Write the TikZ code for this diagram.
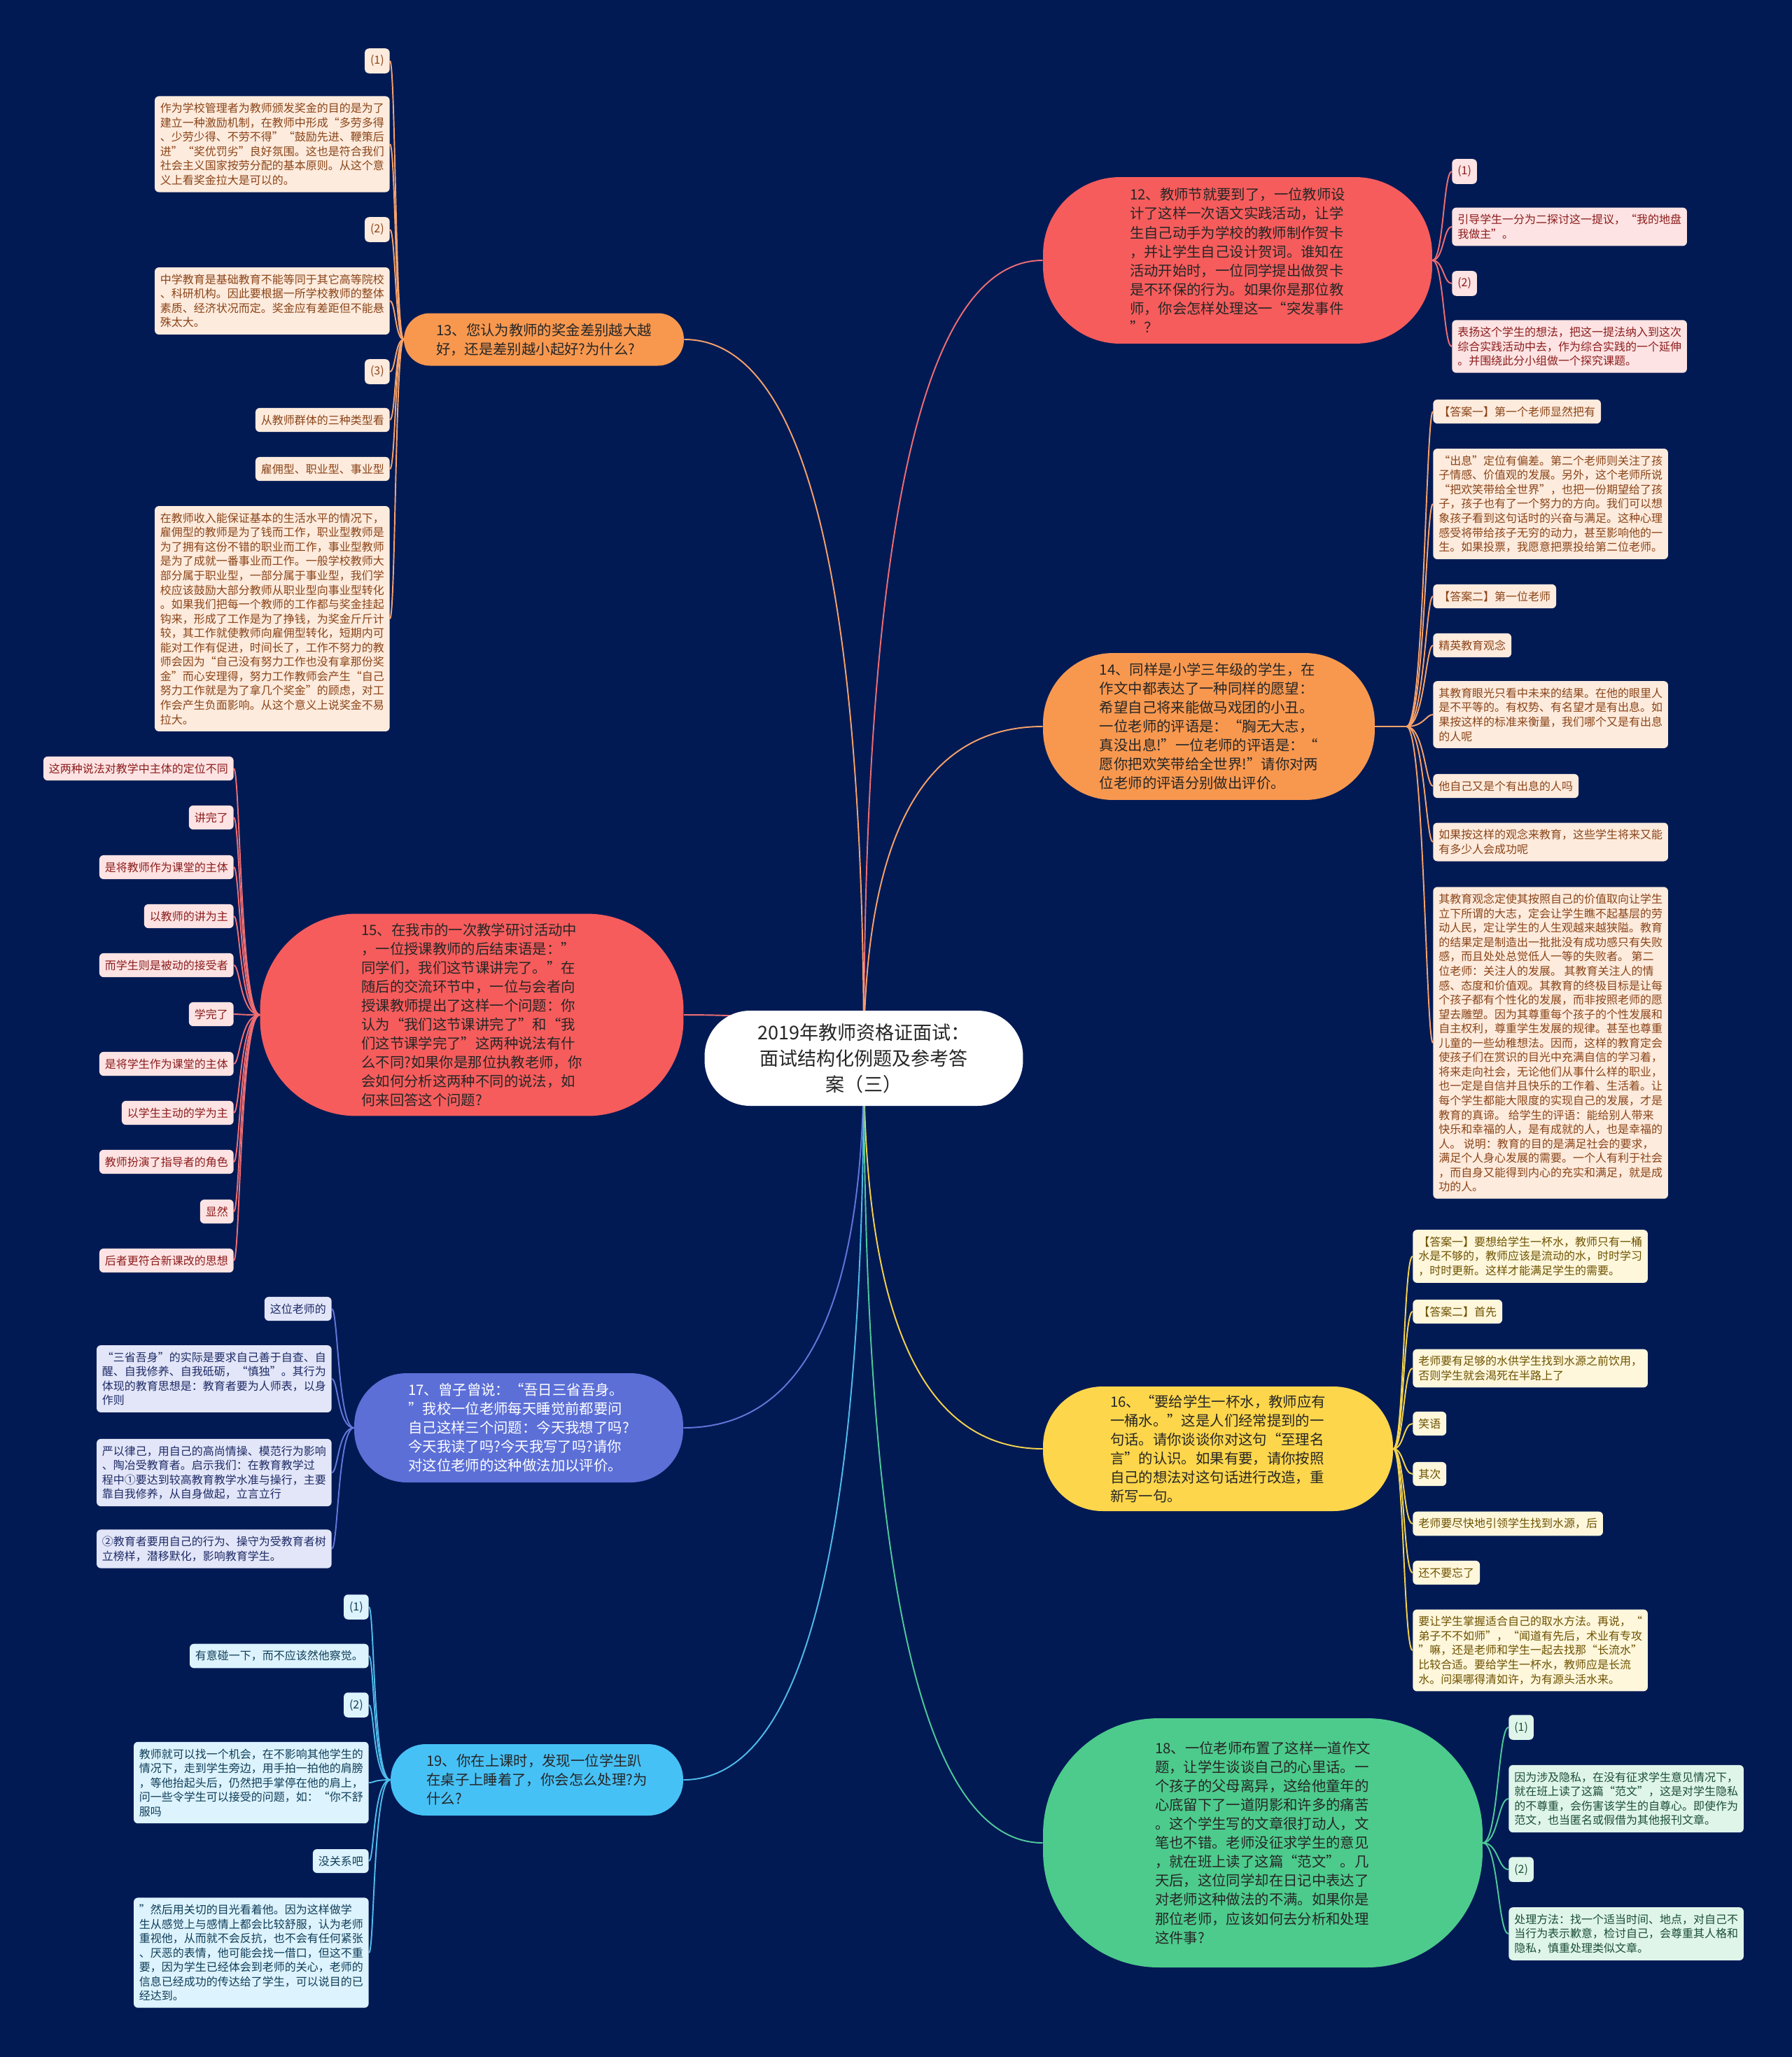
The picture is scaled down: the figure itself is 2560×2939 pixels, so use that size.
\documentclass[tikz,border=0pt]{standalone}
\usepackage{fontspec}
\setmainfont{Noto Sans CJK SC}
\usepackage{xcolor}
\pgfdeclarelayer{background}
\pgfsetlayers{background,main}

\definecolor{navy}{HTML}{021A54}
\definecolor{org}{HTML}{F8984F}
\definecolor{orgline}{HTML}{F6A26B}
\definecolor{orgleaf}{HTML}{FDEBDD}
\definecolor{orgtext}{HTML}{8A4418}
\definecolor{red}{HTML}{F65C5C}
\definecolor{redline}{HTML}{EE6E73}
\definecolor{redleaf}{HTML}{FDE3E3}
\definecolor{redtext}{HTML}{8C1C1C}
\definecolor{yel}{HTML}{FDD64B}
\definecolor{yelline}{HTML}{F4D34D}
\definecolor{yelleaf}{HTML}{FEF7DC}
\definecolor{yeltext}{HTML}{6E5200}
\definecolor{pur}{HTML}{5C6FD7}
\definecolor{purline}{HTML}{6575DA}
\definecolor{purleaf}{HTML}{E2E6F8}
\definecolor{purtext}{HTML}{1E2A66}
\definecolor{sky}{HTML}{46C1F6}
\definecolor{skyline}{HTML}{4FBCEB}
\definecolor{skyleaf}{HTML}{DDF3FD}
\definecolor{skytext}{HTML}{0E3D58}
\definecolor{grn}{HTML}{4DCB8C}
\definecolor{grnline}{HTML}{4FC99A}
\definecolor{grnleaf}{HTML}{DFF5EA}
\definecolor{grntext}{HTML}{1B4E36}

\begin{document}
\begin{tikzpicture}[x=0.02cm, y=-0.02cm,
    root/.style={fill=white, rounded corners=1.3cm, minimum width=9.1cm, minimum height=2.72cm,
      align=center, text=black!85, font=\fontsize{15.4}{21}\selectfont},
    branch/.style={inner sep=0pt, align=left, text=black!85, font=\fontsize{11.6}{15.4}\selectfont},
    leaf/.style={rounded corners=0.12cm, align=left, inner xsep=4.5pt, inner ysep=5.5pt,
      font=\fontsize{9.1}{11.7}\selectfont},
    l12/.style={leaf, fill=redleaf, text=redtext, anchor=west},
    l13/.style={leaf, fill=orgleaf, text=orgtext, anchor=east},
    l14/.style={leaf, fill=orgleaf, text=orgtext, anchor=west},
    l15/.style={leaf, fill=redleaf, text=redtext, anchor=east},
    l16/.style={leaf, fill=yelleaf, text=yeltext, anchor=west},
    l17/.style={leaf, fill=purleaf, text=purtext, anchor=east},
    l18/.style={leaf, fill=grnleaf, text=grntext, anchor=west},
    l19/.style={leaf, fill=skyleaf, text=skytext, anchor=east},
    e12/.style={draw=redline, line width=1.1pt},
    e13/.style={draw=orgline, line width=1.1pt},
    e14/.style={draw=orgline, line width=1.1pt},
    e15/.style={draw=redline, line width=1.1pt},
    e16/.style={draw=yelline, line width=1.1pt},
    e17/.style={draw=purline, line width=1.1pt},
    e18/.style={draw=grnline, line width=1.1pt},
    e19/.style={draw=skyline, line width=1.1pt}]
\useasboundingbox (0,0) rectangle (2560,2939);
\begin{pgfonlayer}{background}
  \fill[navy] (0,0) rectangle (2560,2939);
\end{pgfonlayer}

% Root
\node[root] (root) at (1234,1512) {2019年教师资格证面试：\\面试结构化例题及参考答\\案（三）};

% 12
\node[branch, fill=red, minimum width=11.12cm, minimum height=4.76cm, rounded corners=2.2cm] (b12) at (1768,372)
  {12、教师节就要到了，一位教师设\\计了这样一次语文实践活动，让学\\生自己动手为学校的教师制作贺卡\\，并让学生自己设计贺词。谁知在\\活动开始时，一位同学提出做贺卡\\是不环保的行为。如果你是那位教\\师，你会怎样处理这一“突发事件\\”？};
\node[l12] (c12a) at (2074,245) {(1)};
\node[l12] (c12b) at (2074,324) {引导学生一分为二探讨这一提议，“我的地盘\\我做主”。};
\node[l12] (c12c) at (2074,405) {(2)};
\node[l12] (c12d) at (2074,495) {表扬这个学生的想法，把这一提法纳入到这次\\综合实践活动中去，作为综合实践的一个延伸\\。并围绕此分小组做一个探究课题。};

% 13
\node[branch, fill=org, minimum width=8cm, minimum height=1.5cm, rounded corners=0.74cm] (b13) at (777,485)
  {13、您认为教师的奖金差别越大越\\好，还是差别越小起好?为什么?};
\node[l13] (c13a) at (557,87) {(1)};
\node[l13] (c13b) at (557,206) {作为学校管理者为教师颁发奖金的目的是为了\\建立一种激励机制，在教师中形成“多劳多得\\、少劳少得、不劳不得”“鼓励先进、鞭策后\\进”“奖优罚劣”良好氛围。这也是符合我们\\社会主义国家按劳分配的基本原则。从这个意\\义上看奖金拉大是可以的。};
\node[l13] (c13c) at (557,328) {(2)};
\node[l13] (c13d) at (557,430) {中学教育是基础教育不能等同于其它高等院校\\、科研机构。因此要根据一所学校教师的整体\\素质、经济状况而定。奖金应有差距但不能悬\\殊太大。};
\node[l13] (c13e) at (557,531) {(3)};
\node[l13] (c13f) at (557,600) {从教师群体的三种类型看};
\node[l13] (c13g) at (557,670) {雇佣型、职业型、事业型};
\node[l13] (c13h) at (557,884) {在教师收入能保证基本的生活水平的情况下，\\雇佣型的教师是为了钱而工作，职业型教师是\\为了拥有这份不错的职业而工作，事业型教师\\是为了成就一番事业而工作。一般学校教师大\\部分属于职业型，一部分属于事业型，我们学\\校应该鼓励大部分教师从职业型向事业型转化\\。如果我们把每一个教师的工作都与奖金挂起\\钩来，形成了工作是为了挣钱，为奖金斤斤计\\较，其工作就使教师向雇佣型转化，短期内可\\能对工作有促进，时间长了，工作不努力的教\\师会因为“自己没有努力工作也没有拿那份奖\\金”而心安理得，努力工作教师会产生“自己\\努力工作就是为了拿几个奖金”的顾虑，对工\\作会产生负面影响。从这个意义上说奖金不易\\拉大。};

% 14
\node[branch, fill=org, minimum width=9.48cm, minimum height=4.2cm, rounded corners=2cm] (b14) at (1727,1038)
  {14、同样是小学三年级的学生，在\\作文中都表达了一种同样的愿望：\\希望自己将来能做马戏团的小丑。\\一位老师的评语是：“胸无大志，\\真没出息!”一位老师的评语是：“\\愿你把欢笑带给全世界!”请你对两\\位老师的评语分别做出评价。};
\node[l14] (c14a) at (2047,588) {【答案一】第一个老师显然把有};
\node[l14] (c14b) at (2047,720) {“出息”定位有偏差。第二个老师则关注了孩\\子情感、价值观的发展。另外，这个老师所说\\“把欢笑带给全世界”，也把一份期望给了孩\\子，孩子也有了一个努力的方向。我们可以想\\象孩子看到这句话时的兴奋与满足。这种心理\\感受将带给孩子无穷的动力，甚至影响他的一\\生。如果投票，我愿意把票投给第二位老师。};
\node[l14] (c14c) at (2047,852) {【答案二】第一位老师};
\node[l14] (c14d) at (2047,922) {精英教育观念};
\node[l14] (c14e) at (2047,1021) {其教育眼光只看中未来的结果。在他的眼里人\\是不平等的。有权势、有名望才是有出息。如\\果按这样的标准来衡量，我们哪个又是有出息\\的人呢};
\node[l14] (c14f) at (2047,1123) {他自己又是个有出息的人吗};
\node[l14] (c14g) at (2047,1203) {如果按这样的观念来教育，这些学生将来又能\\有多少人会成功呢};
\node[l14] (c14h) at (2047,1490) {其教育观念定使其按照自己的价值取向让学生\\立下所谓的大志，定会让学生瞧不起基层的劳\\动人民，定让学生的人生观越来越狭隘。教育\\的结果定是制造出一批批没有成功感只有失败\\感，而且处处总觉低人一等的失败者。 第二\\位老师：关注人的发展。 其教育关注人的情\\感、态度和价值观。其教育的终极目标是让每\\个孩子都有个性化的发展，而非按照老师的愿\\望去雕塑。因为其尊重每个孩子的个性发展和\\自主权利，尊重学生发展的规律。甚至也尊重\\儿童的一些幼稚想法。因而，这样的教育定会\\使孩子们在赏识的目光中充满自信的学习着，\\将来走向社会，无论他们从事什么样的职业，\\也一定是自信并且快乐的工作着、生活着。让\\每个学生都能大限度的实现自己的发展，才是\\教育的真谛。 给学生的评语：能给别人带来\\快乐和幸福的人，是有成就的人，也是幸福的\\人。 说明：教育的目的是满足社会的要求，\\满足个人身心发展的需要。一个人有利于社会\\，而自身又能得到内心的充实和满足，就是成\\功的人。};

% 15
\node[branch, fill=red, minimum width=12.1cm, minimum height=5.78cm, rounded corners=2.75cm] (b15) at (674,1450)
  {15、在我市的一次教学研讨活动中\\，一位授课教师的后结束语是：”\\同学们，我们这节课讲完了。”在\\随后的交流环节中，一位与会者向\\授课教师提出了这样一个问题：你\\认为“我们这节课讲完了”和“我\\们这节课学完了”这两种说法有什\\么不同?如果你是那位执教老师，你\\会如何分析这两种不同的说法，如\\何来回答这个问题?};
\node[l15] (c15a) at (334,1098) {这两种说法对教学中主体的定位不同};
\node[l15] (c15b) at (334,1168) {讲完了};
\node[l15] (c15c) at (334,1239) {是将教师作为课堂的主体};
\node[l15] (c15d) at (334,1309) {以教师的讲为主};
\node[l15] (c15e) at (334,1379) {而学生则是被动的接受者};
\node[l15] (c15f) at (334,1449) {学完了};
\node[l15] (c15g) at (334,1520) {是将学生作为课堂的主体};
\node[l15] (c15h) at (334,1590) {以学生主动的学为主};
\node[l15] (c15i) at (334,1660) {教师扮演了指导者的角色};
\node[l15] (c15j) at (334,1731) {显然};
\node[l15] (c15k) at (334,1801) {后者更符合新课改的思想};

% 16
\node[branch, fill=yel, minimum width=10cm, minimum height=3.56cm, rounded corners=1.7cm] (b16) at (1740,2070)
  {16、“要给学生一杯水，教师应有\\一桶水。”这是人们经常提到的一\\句话。请你谈谈你对这句“至理名\\言”的认识。如果有要，请你按照\\自己的想法对这句话进行改造，重\\新写一句。};
\node[l16] (c16a) at (2018,1795) {【答案一】要想给学生一杯水，教师只有一桶\\水是不够的，教师应该是流动的水，时时学习\\，时时更新。这样才能满足学生的需要。};
\node[l16] (c16b) at (2018,1874) {【答案二】首先};
\node[l16] (c16c) at (2018,1955) {老师要有足够的水供学生找到水源之前饮用，\\否则学生就会渴死在半路上了};
\node[l16] (c16d) at (2018,2034) {笑语};
\node[l16] (c16e) at (2018,2106) {其次};
\node[l16] (c16f) at (2018,2177) {老师要尽快地引领学生找到水源，后};
\node[l16] (c16g) at (2018,2247) {还不要忘了};
\node[l16] (c16h) at (2018,2358) {要让学生掌握适合自己的取水方法。再说，“\\弟子不不如师”，“闻道有先后，术业有专攻\\”嘛，还是老师和学生一起去找那“长流水”\\比较合适。要给学生一杯水，教师应是长流\\水。问渠哪得清如许，为有源头活水来。};

% 17
\node[branch, fill=pur, text=white, minimum width=9.4cm, minimum height=3.12cm, rounded corners=1.5cm] (b17) at (741,2040)
  {17、曾子曾说：“吾日三省吾身。\\”我校一位老师每天睡觉前都要问\\自己这样三个问题：今天我想了吗?\\今天我读了吗?今天我写了吗?请你\\对这位老师的这种做法加以评价。};
\node[l17] (c17a) at (474,1870) {这位老师的};
\node[l17] (c17b) at (474,1970) {“三省吾身”的实际是要求自己善于自查、自\\醒、自我修养、自我砥砺，“慎独”。其行为\\体现的教育思想是：教育者要为人师表，以身\\作则};
\node[l17] (c17c) at (474,2104) {严以律己，用自己的高尚情操、模范行为影响\\、陶冶受教育者。启示我们：在教育教学过\\程中①要达到较高教育教学水准与操行，主要\\靠自我修养，从自身做起，立言立行};
\node[l17] (c17d) at (474,2213) {②教育者要用自己的行为、操守为受教育者树\\立榜样，潜移默化，影响教育学生。};

% 18
\node[branch, fill=grn, minimum width=12.56cm, minimum height=7.12cm, rounded corners=3.3cm] (b18) at (1804,2633)
  {18、一位老师布置了这样一道作文\\题，让学生谈谈自己的心里话。一\\个孩子的父母离异，这给他童年的\\心底留下了一道阴影和许多的痛苦\\。这个学生写的文章很打动人，文\\笔也不错。老师没征求学生的意见\\，就在班上读了这篇“范文”。几\\天后，这位同学却在日记中表达了\\对老师这种做法的不满。如果你是\\那位老师，应该如何去分析和处理\\这件事?};
\node[l18] (c18a) at (2155,2468) {(1)};
\node[l18] (c18b) at (2155,2570) {因为涉及隐私，在没有征求学生意见情况下，\\就在班上读了这篇“范文”，这是对学生隐私\\的不尊重，会伤害该学生的自尊心。即使作为\\范文，也当匿名或假借为其他报刊文章。};
\node[l18] (c18c) at (2155,2671) {(2)};
\node[l18] (c18d) at (2155,2763) {处理方法：找一个适当时间、地点，对自己不\\当行为表示歉意，检讨自己，会尊重其人格和\\隐私，慎重处理类似文章。};

% 19
\node[branch, fill=sky, minimum width=8.36cm, minimum height=2.04cm, rounded corners=1cm] (b19) at (767,2543)
  {19、你在上课时，发现一位学生趴\\在桌子上睡着了，你会怎么处理?为\\什么?};
\node[l19] (c19a) at (527,2296) {(1)};
\node[l19] (c19b) at (527,2366) {有意碰一下，而不应该然他察觉。};
\node[l19] (c19c) at (527,2436) {(2)};
\node[l19] (c19d) at (527,2547) {教师就可以找一个机会，在不影响其他学生的\\情况下，走到学生旁边，用手拍一拍他的肩膀\\，等他抬起头后，仍然把手掌停在他的肩上，\\问一些令学生可以接受的问题，如：“你不舒\\服吗};
\node[l19] (c19e) at (527,2659) {没关系吧};
\node[l19] (c19f) at (527,2790) {”然后用关切的目光看着他。因为这样做学\\生从感觉上与感情上都会比较舒服，认为老师\\重视他，从而就不会反抗，也不会有任何紧张\\、厌恶的表情，他可能会找一借口，但这不重\\要，因为学生已经体会到老师的关心，老师的\\信息已经成功的传达给了学生，可以说目的已\\经达到。};

\begin{pgfonlayer}{background}
  % root to branches
  \draw[e12] (root.center) .. controls (1234,748) and (1319,372) .. (b12.west);
  \draw[e13] (root.center) .. controls (1234,824) and (1149,485) .. (b13.east);
  \draw[e14] (root.center) .. controls (1234,1194) and (1319,1038) .. (b14.west);
  \draw[e15] (root.center) .. controls (1234,1470) and (1149,1450) .. (b15.east);
  \draw[e16] (root.center) .. controls (1234,1886) and (1319,2070) .. (b16.west);
  \draw[e17] (root.center) .. controls (1234,1866) and (1149,2040) .. (b17.east);
  \draw[e18] (root.center) .. controls (1234,2263) and (1319,2633) .. (b18.west);
  \draw[e19] (root.center) .. controls (1234,2203) and (1149,2543) .. (b19.east);
  % branches to leaves
  \foreach \c in {c12a,c12b,c12c,c12d}
    \draw[e12] (b12.east) to[out=0, in=180, out distance=0.32cm, in distance=0.24cm] (\c.west);
  \foreach \c in {c13a,c13b,c13c,c13d,c13e,c13f,c13g,c13h}
    \draw[e13] (b13.west) to[out=180, in=0, out distance=0.24cm, in distance=0.16cm] (\c.east);
  \foreach \c in {c14a,c14b,c14c,c14d,c14e,c14f,c14g,c14h}
    \draw[e14] (b14.east) -- ++(45,0) to[out=0, in=180, out distance=0.5cm, in distance=0.2cm] (\c.west);
  \foreach \c in {c15a,c15b,c15c,c15d,c15e,c15f,c15g,c15h,c15i,c15j,c15k}
    \draw[e15] (b15.west) to[out=180, in=0, out distance=0.56cm, in distance=0.18cm] (\c.east);
  \foreach \c in {c16a,c16b,c16c,c16d,c16e,c16f,c16g,c16h}
    \draw[e16] (b16.east) to[out=0, in=180, out distance=0.3cm, in distance=0.26cm] (\c.west);
  \foreach \c in {c17a,c17b,c17c,c17d}
    \draw[e17] (b17.west) to[out=180, in=0, out distance=0.46cm, in distance=0.18cm] (\c.east);
  \foreach \c in {c18a,c18b,c18c,c18d}
    \draw[e18] (b18.east) to[out=0, in=180, out distance=0.44cm, in distance=0.3cm] (\c.west);
  \foreach \c in {c19a,c19b,c19c,c19d,c19e,c19f}
    \draw[e19] (b19.west) to[out=180, in=0, out distance=0.5cm, in distance=0.16cm] (\c.east);
\end{pgfonlayer}
\end{tikzpicture}
\end{document}
